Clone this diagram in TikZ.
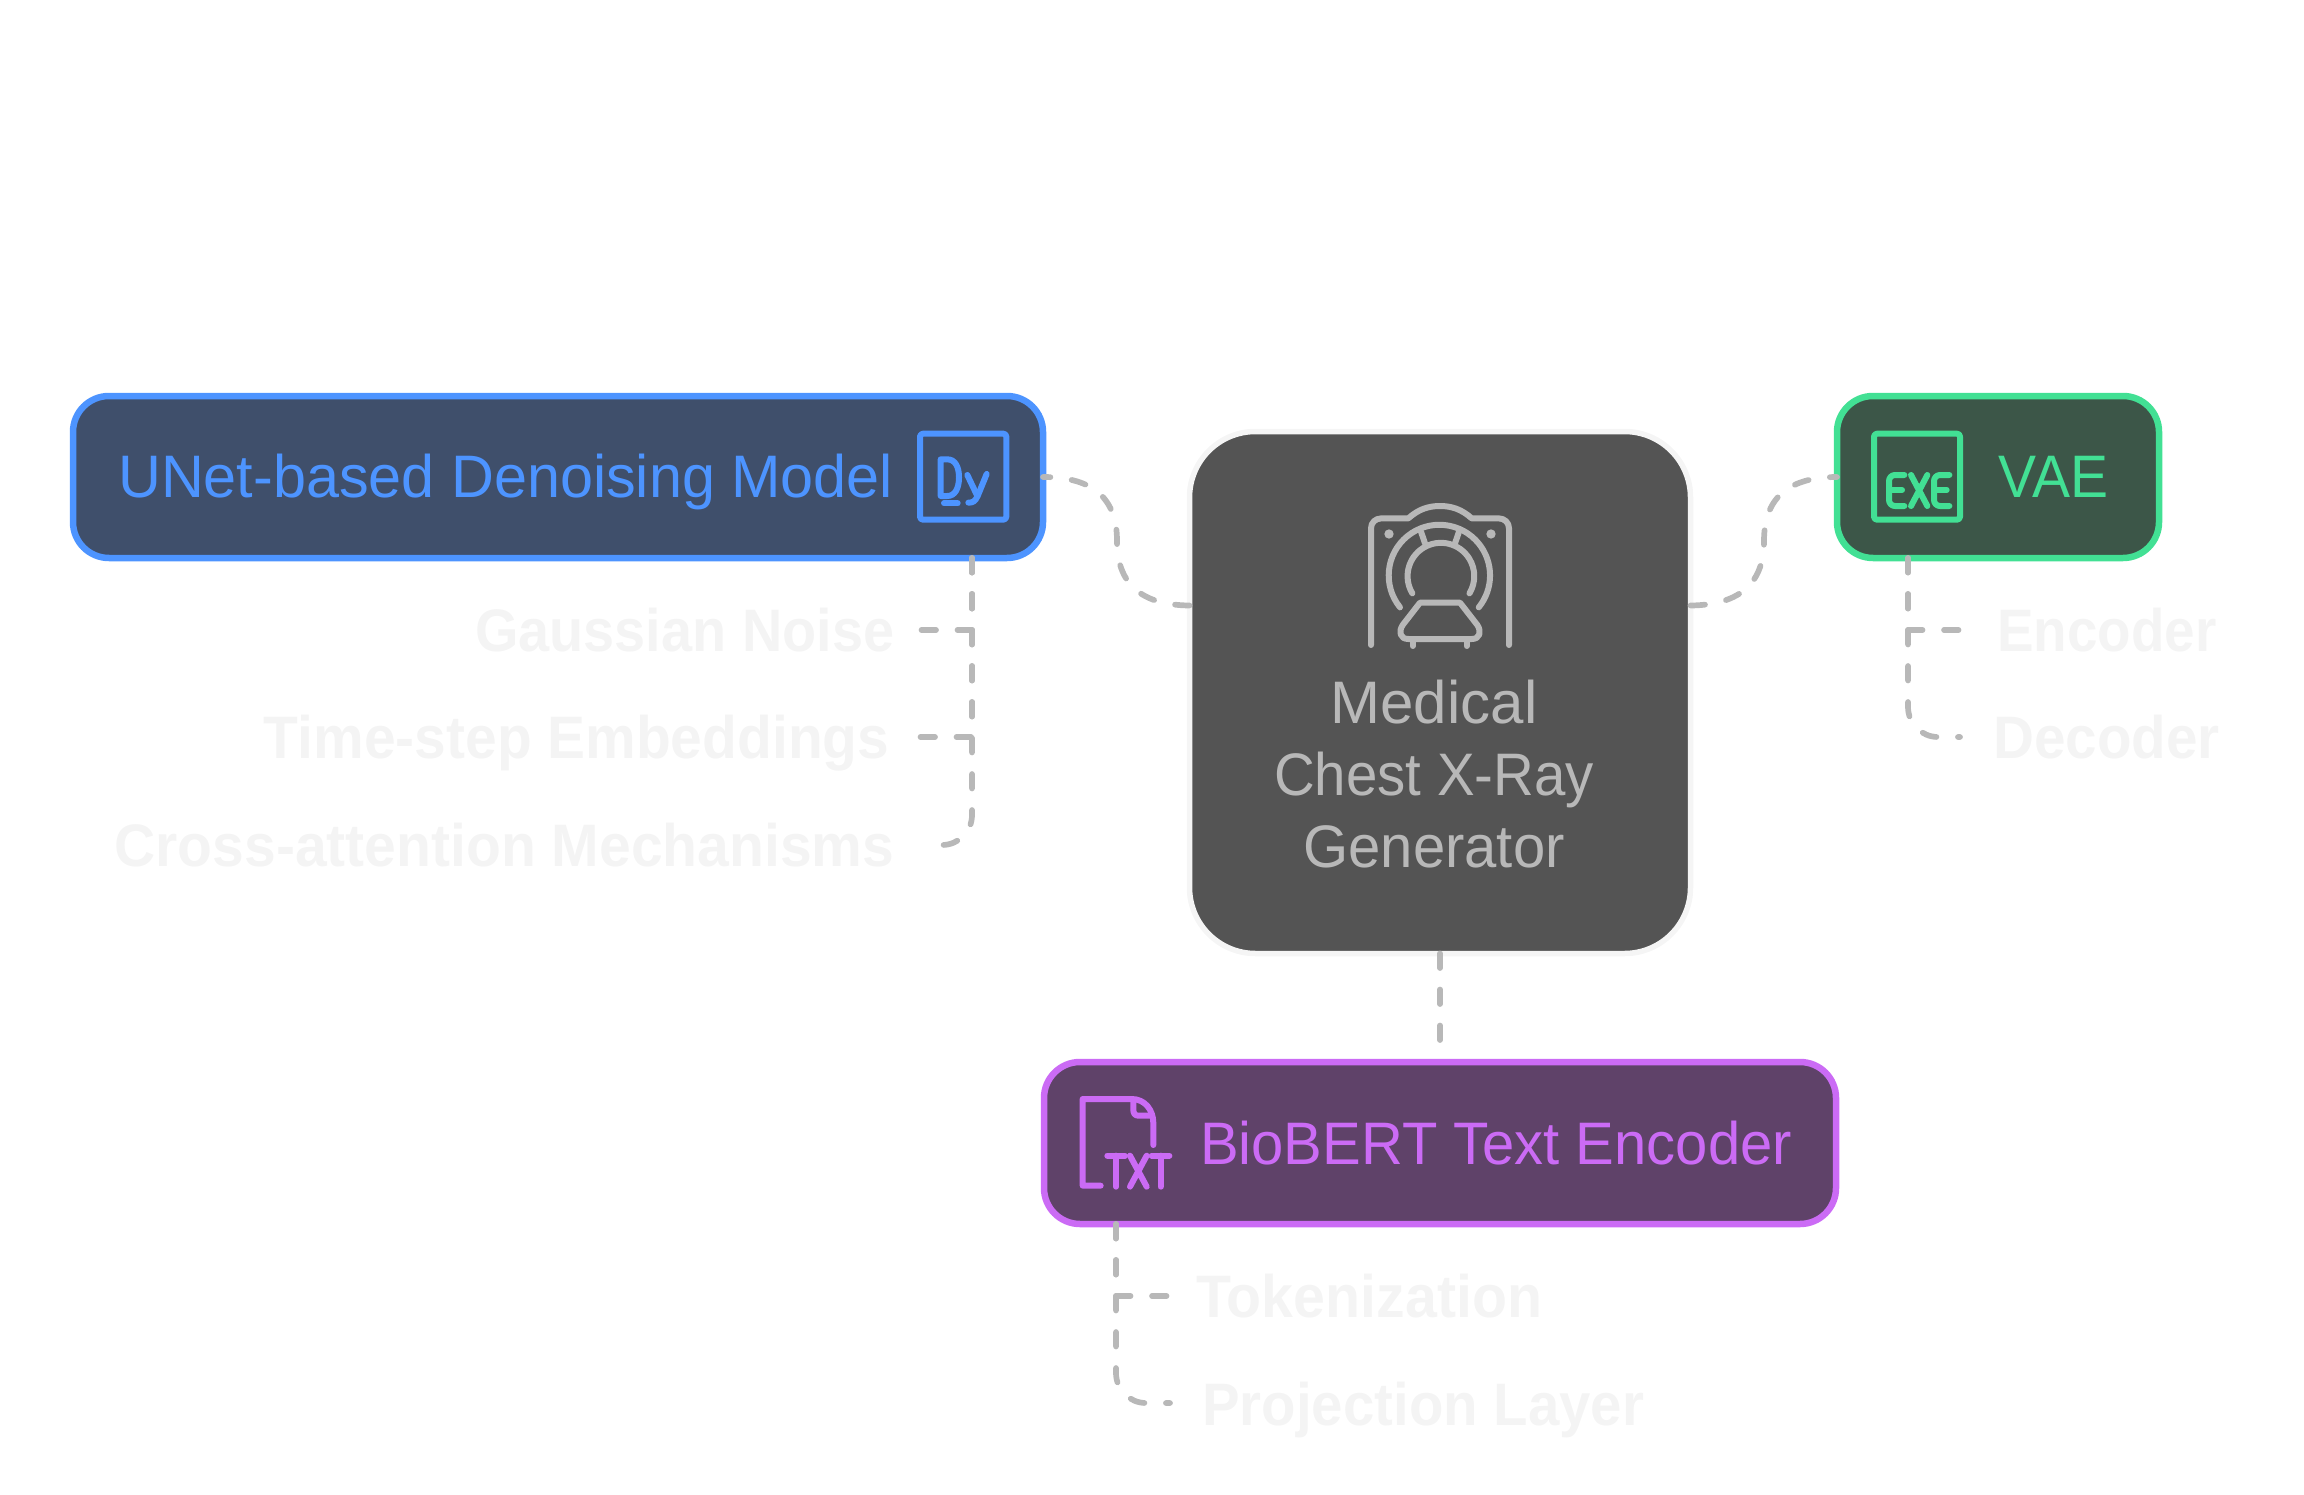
\documentclass[tikz,border=0pt]{standalone}
\usepackage{fontspec}
\setmainfont{Liberation Sans}
\newcommand{\fitw}[2]{{\addfontfeature{FakeStretch=#1}#2}}
\definecolor{rootfill}{HTML}{545454}
\definecolor{rootline}{HTML}{F5F5F5}
\definecolor{greyink}{HTML}{B8B8B8}
\definecolor{leafink}{HTML}{F4F4F4}
\definecolor{unetfill}{HTML}{3F4F6B}
\definecolor{unetline}{HTML}{4D94FF}
\definecolor{vaefill}{HTML}{3C5648}
\definecolor{vaeline}{HTML}{42E094}
\definecolor{bertfill}{HTML}{5F4269}
\definecolor{bertline}{HTML}{CB6BF5}
\tikzset{
	rootbox/.style={draw=rootline, fill=rootfill, line width=5.5pt, rounded corners=66pt, outer sep=0pt, inner sep=0pt, minimum width=501pt, minimum height=522pt},
	mainbox/.style={line width=6.5pt, rounded corners=36pt, outer sep=0pt, inner sep=0pt, minimum height=162pt},
	boxtext/.style={inner sep=0pt, font=\fontsize{60}{72}\selectfont},
	leaftext/.style={boxtext, text=leafink, font=\fontsize{60}{72}\selectfont\bfseries},
	linkdash/.style={greyink, line width=5.7pt, line cap=round, line join=round, dash pattern=on 14.5pt off 21.5pt},
	iconline/.style={line width=6pt, line cap=round, line join=round},
}
\begin{document}
\begin{tikzpicture}[x=1pt,y=-1pt]
	\useasboundingbox (0,0) rectangle (2304,1495);
	
	\node[rootbox] (root) at (1440,692.5) {};
	\node[mainbox, draw=unetline, fill=unetfill, minimum width=970pt] (unet) at (558,477) {};
	\node[mainbox, draw=vaeline, fill=vaefill, minimum width=322pt] (vae) at (1998,477) {};
	\node[mainbox, draw=bertline, fill=bertfill, minimum width=792pt] (bert) at (1440,1143) {};
	
	\node[boxtext, text=greyink, align=center] (rootlabel) at (1434,774) {Medical\\\fitw{0.94}{Chest X-Ray}\\\fitw{0.967}{Generator}};
	\node[boxtext, text=unetline, anchor=base west] (unetlabel) at (118,497) {\fitw{0.989}{UNet-based Denoising Model}};
	\node[boxtext, text=vaeline, anchor=base west] (vaelabel) at (1998.5,497) {\fitw{0.95}{VAE}};
	\node[boxtext, text=bertline, anchor=base west] (bertlabel) at (1200,1164) {\fitw{0.966}{BioBERT Text Encoder}};
	
	\node[leaftext, anchor=base east] (gauss) at (894.5,651) {\fitw{0.931}{Gaussian Noise}};
	\node[leaftext, anchor=base east] (timestep) at (889.5,758) {\fitw{0.949}{Time-step Embeddings}};
	\node[leaftext, anchor=base east] (crossatt) at (894.5,866) {\fitw{0.951}{Cross-attention Mechanisms}};
	\node[leaftext, anchor=base west] (encoder) at (1997,651) {\fitw{0.914}{Encoder}};
	\node[leaftext, anchor=base west] (decoder) at (1993,758) {\fitw{0.944}{Decoder}};
	\node[leaftext, anchor=base west] (token) at (1196,1317) {\fitw{0.955}{Tokenization}};
	\node[leaftext, anchor=base west] (project) at (1202,1425) {\fitw{0.94}{Projection Layer}};
	
	\coordinate (utrunk) at (972,0);
	\coordinate (vtrunk) at (1908,0);
	\coordinate (btrunk) at (1116,0);
	\coordinate (gaussend) at (916,630);
	\coordinate (timeend) at (916,737);
	\coordinate (crossend) at (942,845);
	\coordinate (encoderend) at (1962,630);
	\coordinate (decoderend) at (1960,737);
	\coordinate (tokenend) at (1170,1296);
	\coordinate (projectend) at (1170,1403);
	
	\draw[linkdash] ([yshift=87pt]root.west) .. controls (1139,605) and (1117,582) .. (1117,541) .. controls (1117,500) and (1095,477) .. (unet.east);
	\draw[linkdash] ([yshift=87pt]root.east) .. controls (1741,605) and (1764,582) .. (1764,541) .. controls (1764,500) and (1786,477) .. (vae.west);
	\draw[linkdash] (root.south) -- ([yshift=3pt]bert.north);
	
	\foreach \leafend in {gaussend,timeend}
	\draw[linkdash] (unet.south -| utrunk) |- (\leafend);
	\draw[linkdash, rounded corners=30pt] (unet.south -| utrunk) |- (crossend);
	\draw[linkdash] (vae.south -| vtrunk) |- (encoderend);
	\draw[linkdash, rounded corners=30pt] (vae.south -| vtrunk) |- (decoderend);
	\draw[linkdash] (bert.south -| btrunk) |- (tokenend);
	\draw[linkdash, rounded corners=30pt] (bert.south -| btrunk) |- (projectend);
	
	% scanner icon
	\begin{scope}[shift={(1340,490)}, x=1/3*1pt, y=-1/3*1pt]
	\draw[iconline, greyink] (93,465) -- (93,115) .. controls (93,97) and (107,85) .. (125,85) -- (205,85) .. controls (235,58) and (265,48) .. (300,48) .. controls (335,48) and (365,58) .. (395,85) -- (475,85) .. controls (493,85) and (507,97) .. (507,115) -- (507,465);
	\fill[greyink] (147,132) circle[radius=14] (453,132) circle[radius=14];
	\draw[iconline, greyink] (180,352) arc[start angle=141, end angle=399, radius=152];
	\draw[iconline, greyink] (217,310) arc[start angle=149, end angle=391, radius=100];
	\draw[iconline, greyink] (243,125) -- (255,160) (357,125) -- (345,160);
	\draw[iconline, greyink] (240,338) -- (360,338) -- (412,405) .. controls (425,425) and (420,447) .. (395,447) -- (205,447) .. controls (180,447) and (175,425) .. (188,405) -- cycle;
	\draw[iconline, greyink] (218,450) -- (218,468) (380,450) -- (380,468);
	\end{scope}
	
	% Dy icon
	\begin{scope}[shift={(910,420)}, x=1/3*1pt, y=-1/3*1pt]
	\draw[iconline, unetline, rounded corners=3pt] (30,41) rectangle (289,299);
	\draw[iconline, unetline] (92,118) -- (92,228) -- (112,228) .. controls (135,228) and (147,205) .. (147,172) .. controls (147,140) and (135,118) .. (112,118) -- cycle;
	\draw[iconline, unetline] (102,250) -- (143,250);
	\draw[iconline, unetline] (172,165) -- (202,228);
	\draw[iconline, unetline] (230,162) -- (203,228) .. controls (195,245) and (188,248) .. (175,248);
	\end{scope}
	
	% EXE icon
	\begin{scope}[shift={(1880,420)}, x=1/3*1pt, y=-1/3*1pt]
	\draw[iconline, vaeline, rounded corners=3pt] (-18,41) rectangle (240,299);
	\draw[iconline, vaeline, rounded corners=6pt] (73,165) -- (27,165) -- (27,258) -- (73,258);
	\draw[iconline, vaeline] (27,210) -- (66,210);
	\draw[iconline, vaeline] (93,165) -- (142,258) (142,165) -- (93,258);
	\draw[iconline, vaeline, rounded corners=6pt] (208,165) -- (162,165) -- (162,258) -- (208,258);
	\draw[iconline, vaeline] (162,210) -- (200,210);
	\end{scope}
	
	% TXT icon
	\begin{scope}[shift={(1080,1095)}, x=1/3*1pt, y=-1/3*1pt]
	\draw[iconline, bertline] (62,272) -- (8,272) -- (8,12) -- (155,12) .. controls (195,12) and (220,45) .. (220,85) -- (220,150);
	\draw[iconline, bertline] (160,15) -- (160,45) .. controls (160,55) and (165,62) .. (175,62) -- (212,62);
	\draw[iconline, bertline] (82,182) -- (135,182) (108,182) -- (108,275);
	\draw[iconline, bertline] (150,182) -- (200,275) (200,182) -- (150,275);
	\draw[iconline, bertline] (215,182) -- (268,182) (242,182) -- (242,275);
	\end{scope}
\end{tikzpicture}
\end{document}
